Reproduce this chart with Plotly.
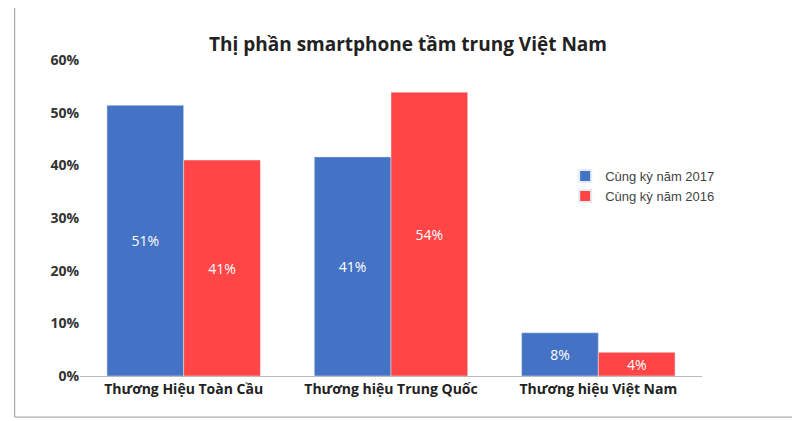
import plotly.graph_objects as go

categories = ["Thương Hiệu Toàn Cầu", "Thương hiệu Trung Quốc", "Thương hiệu Việt Nam"]
v2017 = [51.4, 41.6, 8.2]
v2016 = [41.0, 53.9, 4.5]
lab2017 = ["51%", "41%", "8%"]
lab2016 = ["41%", "54%", "4%"]
yticks = [0, 10, 20, 30, 40, 50, 60]

fig = go.Figure()
fig.add_bar(x=categories, y=v2017, name="Cùng kỳ năm 2017", marker_color="#4472C4",
            text=lab2017, textposition="inside", insidetextanchor="middle",
            textfont=dict(color="white", size=14, family="Open Sans"))
fig.add_bar(x=categories, y=v2016, name="Cùng kỳ năm 2016", marker_color="#FF4545",
            text=lab2016, textposition="inside", insidetextanchor="middle",
            textfont=dict(color="white", size=14, family="Open Sans"))
fig.update_layout(
    width=800, height=421, barmode="group", bargap=0.26, bargroupgap=0,
    paper_bgcolor="white", plot_bgcolor="white",
    margin=dict(l=72, r=106, t=52, b=53),
    title=dict(text="<b>Thị phần smartphone tầm trung Việt Nam</b>", x=0.5, xanchor="center",
               y=0.93, font=dict(size=19, family="Open Sans", color="#222")),
    font=dict(family="Open Sans", color="#333"),
    legend=dict(x=0.78, y=0.68, xanchor="left", yanchor="top", bgcolor="rgba(0,0,0,0)",
                tracegroupgap=10,
                font=dict(size=13, family="Liberation Sans", color="#444"), itemsizing="constant"),
    uniformtext=dict(mode="show", minsize=14),
)
fig.update_yaxes(range=[0, 60], showgrid=False, tickvals=yticks,
                 ticktext=["<b>%d%%</b>" % v for v in yticks],
                 tickfont=dict(size=14, color="#333"), zeroline=False)
fig.update_xaxes(tickfont=dict(size=14, color="#222"), showline=True, linecolor="#bbb",
                 tickvals=categories, ticktext=["<b>%s</b>" % c for c in categories])
fig.add_shape(type="rect", xref="paper", yref="paper", x0=-0.105, x1=1.165, y0=-0.13, y1=1.175,
              line=dict(color="#999", width=1))
fig.write_html("out.html")
